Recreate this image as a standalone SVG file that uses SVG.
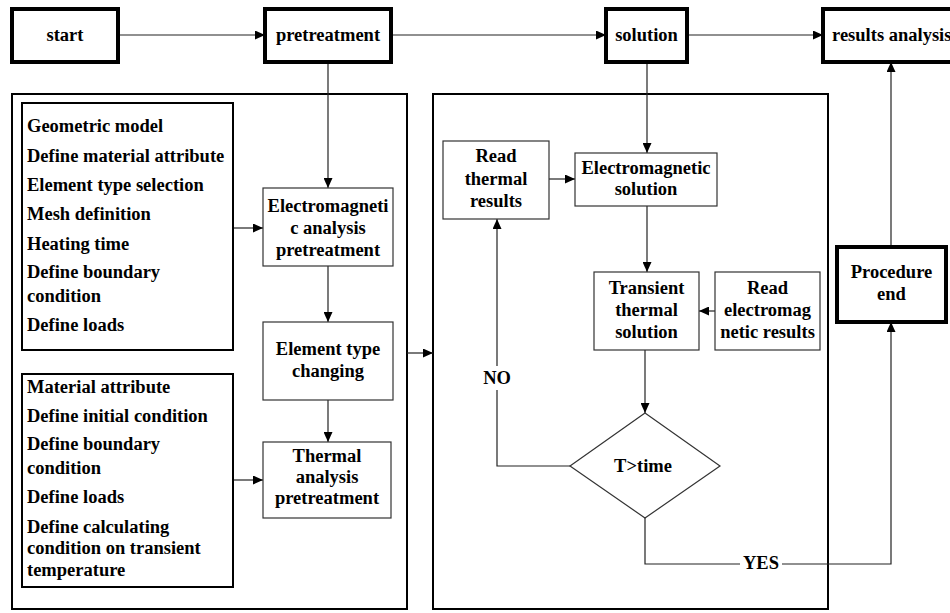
<svg xmlns="http://www.w3.org/2000/svg" width="950" height="613" viewBox="0 0 950 613">
<defs>
<marker id="arr" markerUnits="userSpaceOnUse" markerWidth="10" markerHeight="9" refX="10" refY="4.5" orient="auto">
<path d="M0,0 L10,4.5 L0,9 z" fill="#000"/>
</marker>
<style>
text{font-family:"Liberation Serif","Times New Roman",serif;font-weight:bold;font-size:18.5px;fill:#000}
.c{text-anchor:middle}
.thick{fill:#fff;stroke:#000;stroke-width:4}
.thin{fill:#fff;stroke:#333;stroke-width:1.2}
.frame{fill:none;stroke:#000;stroke-width:2}
.list{fill:#fff;stroke:#000;stroke-width:2}
.ln{fill:none;stroke:#222;stroke-width:1.2}
.ar{fill:none;stroke:#222;stroke-width:1.2;marker-end:url(#arr)}
</style>
</defs>
<rect width="950" height="613" fill="#fff"/>

<g id="frame-pretreatment"><rect class="frame" x="12" y="94" width="395" height="515"/></g>
<g id="frame-solution"><rect class="frame" x="433" y="94" width="395" height="515"/></g>

<g id="connectors">
<line class="ar" x1="118" y1="35" x2="265" y2="35"/>
<line class="ar" x1="391" y1="35" x2="606" y2="35"/>
<line class="ar" x1="687" y1="35" x2="823" y2="35"/>
<line class="ar" x1="328" y1="62" x2="328" y2="188"/>
<line class="ar" x1="647" y1="62" x2="647" y2="153"/>
<line class="ar" x1="233" y1="228" x2="263" y2="228"/>
<line class="ar" x1="328" y1="266" x2="328" y2="322"/>
<line class="ar" x1="328" y1="400" x2="328" y2="442"/>
<line class="ar" x1="233" y1="480" x2="263" y2="480"/>
<line class="ar" x1="407" y1="353" x2="433" y2="353"/>
<line class="ar" x1="549" y1="179" x2="575" y2="179"/>
<line class="ar" x1="647" y1="206" x2="647" y2="272"/>
<line class="ar" x1="715" y1="311" x2="699" y2="311"/>
<line class="ar" x1="645" y1="350" x2="645" y2="413"/>
<polyline class="ar" points="570,466 497,466 497,219"/>
<polyline class="ar" points="645,518 645,564 891,564 891,322"/>
<line class="ar" x1="891" y1="247" x2="891" y2="62"/>
<rect x="481" y="366" width="32" height="24" fill="#fff"/>
<text class="c" x="497" y="384">NO</text>
<rect x="740" y="552" width="42" height="18" fill="#fff"/>
<text class="c" x="761" y="569">YES</text>
</g>

<g id="start"><rect class="thick" x="12" y="9" width="106" height="53"/><text class="c" x="65" y="41">start</text></g>
<g id="pretreatment"><rect class="thick" x="265" y="9" width="126" height="53"/><text class="c" x="328" y="41">pretreatment</text></g>
<g id="solution"><rect class="thick" x="606" y="9" width="81" height="53"/><text class="c" x="646.5" y="41">solution</text></g>
<g id="results-analysis"><rect class="thick" x="823" y="9" width="140" height="53"/><text x="832" y="41">results analysis</text></g>

<g id="em-settings">
<rect class="list" x="22" y="103" width="211" height="247"/>
<text x="27" y="132">Geometric model</text>
<text x="27" y="162">Define material attribute</text>
<text x="27" y="191">Element type selection</text>
<text x="27" y="220">Mesh definition</text>
<text x="27" y="250">Heating time</text>
<text x="27" y="278">Define boundary</text>
<text x="27" y="302">condition</text>
<text x="27" y="331">Define loads</text>
</g>

<g id="thermal-settings">
<rect class="list" x="22" y="374" width="211" height="213"/>
<text x="27" y="393">Material attribute</text>
<text x="27" y="422">Define initial condition</text>
<text x="27" y="450">Define boundary</text>
<text x="27" y="474">condition</text>
<text x="27" y="503">Define loads</text>
<text x="27" y="533">Define calculating</text>
<text x="27" y="554">condition on transient</text>
<text x="27" y="576">temperature</text>
</g>

<g id="em-pretreatment">
<rect class="thin" x="263" y="188" width="130" height="78"/>
<text class="c" x="328" y="212">Electromagneti</text>
<text class="c" x="328" y="234">c analysis</text>
<text class="c" x="328" y="256">pretreatment</text>
</g>

<g id="element-type-changing">
<rect class="thin" x="263" y="322" width="130" height="78"/>
<text class="c" x="328" y="355">Element type</text>
<text class="c" x="328" y="377">changing</text>
</g>

<g id="thermal-pretreatment">
<rect class="thin" x="263" y="442" width="128" height="76"/>
<text class="c" x="327" y="462">Thermal</text>
<text class="c" x="327" y="483">analysis</text>
<text class="c" x="327" y="504">pretreatment</text>
</g>

<g id="read-thermal">
<rect class="thin" x="443" y="141" width="106" height="78"/>
<text class="c" x="496" y="162">Read</text>
<text class="c" x="496" y="185">thermal</text>
<text class="c" x="496" y="207">results</text>
</g>

<g id="em-solution">
<rect class="thin" x="575" y="153" width="142" height="53"/>
<text class="c" x="646" y="174">Electromagnetic</text>
<text class="c" x="646" y="195">solution</text>
</g>

<g id="transient-thermal">
<rect class="thin" x="594" y="272" width="105" height="78"/>
<text class="c" x="646.5" y="294">Transient</text>
<text class="c" x="646.5" y="316">thermal</text>
<text class="c" x="646.5" y="338">solution</text>
</g>

<g id="read-em">
<rect class="thin" x="715" y="272" width="105" height="78"/>
<text class="c" x="767.5" y="294">Read</text>
<text class="c" x="767.5" y="316">electromag</text>
<text class="c" x="767.5" y="338">netic results</text>
</g>

<g id="decision">
<polygon class="thin" points="645,413 720,466 645,518 570,466"/>
<text class="c" x="643" y="472">T&gt;time</text>
</g>

<g id="procedure-end">
<rect class="thick" x="837" y="247" width="109" height="75"/>
<text class="c" x="891.5" y="278">Procedure</text>
<text class="c" x="891.5" y="300">end</text>
</g>
</svg>
